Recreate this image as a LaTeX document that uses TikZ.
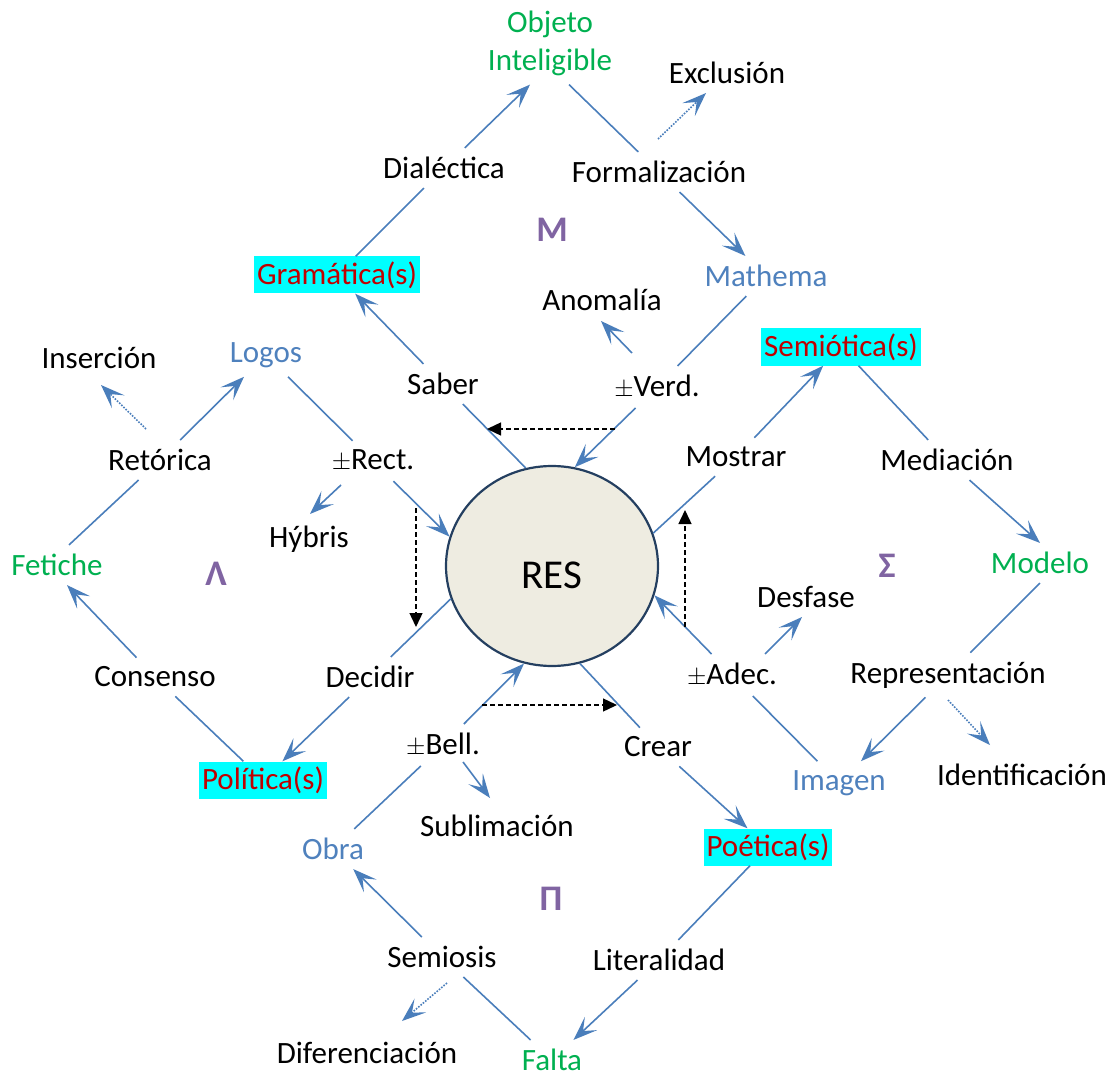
\documentclass[tikz,border=0pt]{standalone}
\usepackage{fontspec}
\setmainfont{Carlito}
\usepackage{xcolor}
\usetikzlibrary{arrows.meta,calc,shapes.geometric}

\definecolor{linkblue}{HTML}{4A7EBB}
\definecolor{txtblue}{HTML}{4F81BD}
\definecolor{txtgreen}{HTML}{00B050}
\definecolor{hlred}{HTML}{C00000}
\definecolor{hlcyan}{HTML}{00FFFF}
\definecolor{grkpurple}{HTML}{8064A2}
\definecolor{resfill}{HTML}{EEECE1}
\definecolor{resdraw}{HTML}{243F60}

\tikzset{
  lbl/.style={font=\fontsize{31}{38}\selectfont, inner sep=9pt},
  bl/.style={lbl, text=txtblue},
  gr/.style={lbl, text=txtgreen},
  hl/.style={lbl, fill=hlcyan, text=hlred, inner xsep=3pt, inner ysep=0pt, minimum height=37pt},
  grk/.style={font=\fontsize{36}{40}\selectfont\bfseries, text=grkpurple},
  link/.style={draw=linkblue, line width=1.6pt},
  arr/.style={link, -{Stealth[length=24pt,width=18pt,inset=11pt]}},
  dotarr/.style={arr, dash pattern=on 1.6pt off 1.4pt},
  dasharr/.style={line width=1.4pt, dash pattern=on 5pt off 3pt, -{Triangle[length=14pt,width=13pt]}}
}

\begin{document}
\begin{tikzpicture}[x=1pt, y=-1pt]
\useasboundingbox (0,0) rectangle (1112,1078);

\node at (552,566) [ellipse, minimum width=212pt, minimum height=200pt, inner sep=0pt, fill=resfill, draw=resdraw, line width=2.2pt, font=\fontsize{41}{41}\selectfont, text height=44pt, text depth=0pt] (res) {RES};

\node at (550,43) [gr, align=center] (obj) {Objeto\\Inteligible};
\node at (727,73) [lbl] (excl) {Exclusión};
\node at (444,168) [lbl] (dial) {Dialéctica};
\node at (659,172) [lbl] (form) {Formalización};
\node at (552,230) [grk] (mu) {Μ};
\node at (337,275) [hl] (gram) {Gramática(s)};
\node at (766,276) [bl] (math) {Mathema};
\node at (602,300) [lbl] (anom) {Anomalía};
\node at (99,358) [lbl] (ins) {Inserción};
\node at (266,355) [bl] (logos) {Logos};
\node at (841,347) [hl] (semio) {Semiótica(s)};
\node at (443,384) [lbl] (saber) {Saber};
\node at (657,387) [lbl] (verd) {$\pm$Verd.};
\node at (160,460) [lbl] (ret) {Retórica};
\node at (373,461) [lbl] (rect) {$\pm$Rect.};
\node at (736,457) [lbl] (most) {Mostrar};
\node at (947,460) [lbl] (med) {Mediación};
\node at (309,539) [lbl] (hyb) {Hýbris};
\node at (57,565) [gr] (fet) {Fetiche};
\node at (216,574) [grk] (lam) {Λ};
\node at (887,566) [grk] (sig) {Σ};
\node at (1040,563) [gr] (mod) {Modelo};
\node at (806,597) [lbl] (desf) {Desfase};
\node at (155,677) [lbl] (cons) {Consenso};
\node at (370,677) [lbl] (dec) {Decidir};
\node at (732,675) [lbl] (adec) {$\pm$Adec.};
\node at (948,675) [lbl] (repr) {Representación};
\node at (443,745) [lbl] (bell) {$\pm$Bell.};
\node at (658,747) [lbl] (crear) {Crear};
\node at (263,780) [hl] (pol) {Política(s)};
\node at (839,783) [bl] (img) {Imagen};
\node at (1022,775) [lbl] (ident) {Identificación};
\node at (497,826) [lbl] (subl) {Sublimación};
\node at (333,849) [bl] (obra) {Obra};
\node at (768,847) [hl] (poet) {Poética(s)};
\node at (551,899) [grk] (pi) {Π};
\node at (442,957) [lbl] (semi) {Semiosis};
\node at (659,960) [lbl] (lit) {Literalidad};
\node at (367,1053) [lbl] (dif) {Diferenciación};
\node at (552,1060) [gr] (falta) {Falta};

\coordinate (verdS) at (615,429);
\coordinate (saberS) at (487,429);
\coordinate (rectS) at (416,508);
\coordinate (decS) at (416,627);
\coordinate (bellS) at (482,705);
\coordinate (crearS) at (617,705);
\coordinate (adecS) at (685,627);
\coordinate (mostS) at (685,510);

% M
\draw[link] (gram) -- (dial);
\draw[arr] (dial) -- ([xshift=-20pt]obj.south);
\draw[link] ([xshift=19pt]obj.south) -- (form);
\draw[arr] (form) -- (math);
\draw[dotarr] ($(form)+(-1,-33)$) -- ($(excl)+(-21,20)$);
\draw[link] (math) -- (verd);
\draw[arr] (verd) -- (res.77);
\draw[arr] ($(verd)+(-25,-34)$) -- ($(anom)+(-1,21)$);
\draw[link] (res.105) -- (saber);
\draw[arr] (saber) -- (gram);

% Lambda
\draw[link] (logos) -- (rect);
\draw[arr] (rect) -- (res.164);
\draw[arr] ($(rect)+(-32,24)$) -- ($(hyb)+(1,-25)$);
\draw[link] ([xshift=12pt]fet.north) -- (ret);
\draw[arr] (ret) -- (logos);
\draw[dotarr] ($(ret)+(-14,-31)$) -- ($(ins)+(2,27)$);
\draw[link] (res.198) -- (dec);
\draw[arr] (dec) -- (pol);
\draw[link] (pol) -- (cons);
\draw[arr] (cons) -- ([xshift=10pt]fet.south);

% Sigma
\draw[link] (res.18) -- (most);
\draw[arr] (most) -- (semio);
\draw[link] (semio) -- (med);
\draw[arr] (med) -- (mod.north);
\draw[link] (mod.south) -- (repr);
\draw[arr] (repr) -- (img);
\draw[dotarr] ($(repr)+(0,25)$) -- ($(ident)+(-32,-30)$);
\draw[link] (img) -- (adec);
\draw[arr] (adec) -- (res.344);
\draw[arr] ($(adec)+(33,-21)$) -- ($(desf)+(-4,20)$);

% Pi
\draw[link] (obra) -- (bell);
\draw[arr] (bell) -- (res.254);
\draw[arr] ($(bell)+(20,17)$) -- ($(subl)+(-7,-28)$);
\draw[link] (res.286) -- (crear);
\draw[arr] (crear) -- (poet);
\draw[link] (poet) -- (lit);
\draw[arr] (lit) -- (falta);
\draw[link] (falta) -- (semi);
\draw[arr] (semi) -- (obra);
\draw[dotarr] ($(semi)+(5,26)$) -- ($(dif)+(35,-32)$);

% turns
\draw[dasharr] (verdS) -- (saberS);
\draw[dasharr] (rectS) -- (decS);
\draw[dasharr] (bellS) -- (crearS);
\draw[dasharr] (adecS) -- (mostS);
\end{tikzpicture}
\end{document}
